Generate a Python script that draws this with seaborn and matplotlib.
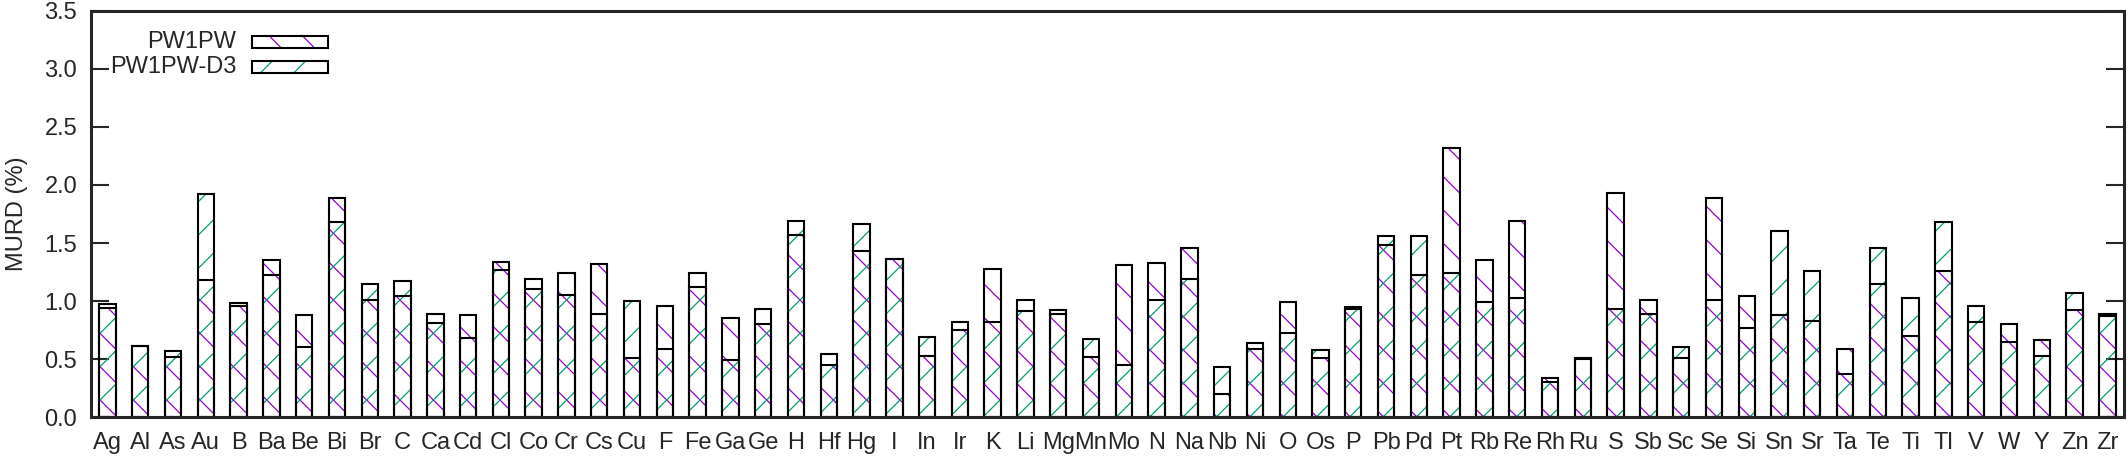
import numpy as np
import pandas as pd
import matplotlib
matplotlib.use('Agg')
import matplotlib.pyplot as plt
import seaborn as sns
from matplotlib.patches import Rectangle

elements = ['Ag', 'Al', 'As', 'Au', 'B', 'Ba', 'Be', 'Bi', 'Br', 'C', 'Ca', 'Cd', 'Cl', 'Co',
            'Cr', 'Cs', 'Cu', 'F', 'Fe', 'Ga', 'Ge', 'H', 'Hf', 'Hg', 'I', 'In', 'Ir', 'K',
            'Li', 'Mg', 'Mn', 'Mo', 'N', 'Na', 'Nb', 'Ni', 'O', 'Os', 'P', 'Pb', 'Pd', 'Pt',
            'Rb', 'Re', 'Rh', 'Ru', 'S', 'Sb', 'Sc', 'Se', 'Si', 'Sn', 'Sr', 'Ta', 'Te', 'Ti',
            'Tl', 'V', 'W', 'Y', 'Zn', 'Zr']

pw1pw = [0.94, 0.61, 0.52, 1.18, 0.96, 1.35, 0.88, 1.89, 1.01, 1.04, 0.81, 0.88, 1.34, 1.19,
         1.24, 1.32, 0.51, 0.96, 1.24, 0.85, 0.80, 1.57, 0.45, 1.43, 1.36, 0.53, 0.75, 1.28,
         1.01, 0.92, 0.52, 1.31, 1.33, 1.46, 0.20, 0.64, 0.99, 0.51, 0.95, 1.48, 1.22, 2.32,
         1.35, 1.69, 0.34, 0.51, 1.93, 1.01, 0.51, 1.89, 1.04, 0.88, 0.83, 0.59, 1.15, 0.70,
         1.26, 0.82, 0.80, 0.66, 0.92, 0.89]

pw1pw_d3 = [0.97, 0.61, 0.57, 1.92, 0.98, 1.22, 0.60, 1.68, 1.15, 1.17, 0.89, 0.68, 1.27, 1.10,
            1.05, 0.89, 1.00, 0.59, 1.12, 0.49, 0.93, 1.69, 0.54, 1.66, 1.36, 0.69, 0.82, 0.82,
            0.91, 0.89, 0.67, 0.45, 1.01, 1.19, 0.43, 0.59, 0.72, 0.58, 0.93, 1.56, 1.56, 1.24,
            0.99, 1.03, 0.30, 0.50, 0.93, 0.89, 0.60, 1.01, 0.77, 1.60, 1.26, 0.37, 1.46, 1.03,
            1.68, 0.96, 0.65, 0.53, 1.07, 0.87]

series_names = ['PW1PW', 'PW1PW-D3']
series_colors = ['#9400d3', '#009e73']
series_hatch = ['\\', '/']

df = pd.DataFrame({'element': elements, 'PW1PW': pw1pw, 'PW1PW-D3': pw1pw_d3})

sns.set_style('ticks')
plt.rcParams['font.family'] = ['Liberation Sans', 'DejaVu Sans']
plt.rcParams['font.size'] = 17
plt.rcParams['hatch.linewidth'] = 0.9

fig, ax = plt.subplots(figsize=(21.28, 4.58), dpi=100)
fig.subplots_adjust(left=0.0428, right=0.998, top=0.976, bottom=0.0895)

# hatch layers first, then black outlines on top
for name, col, h in zip(series_names, series_colors, series_hatch):
    n0 = len(ax.patches)
    sns.barplot(data=df, x='element', y=name, width=0.5, ax=ax, color='white')
    for p in ax.patches[n0:]:
        p.set_facecolor('none')
        p.set_edgecolor(col)
        p.set_hatch(h)
        p.set_linewidth(0)
for name in series_names:
    n0 = len(ax.patches)
    sns.barplot(data=df, x='element', y=name, width=0.5, ax=ax, color='white')
    for p in ax.patches[n0:]:
        p.set_facecolor('none')
        p.set_edgecolor('black')
        p.set_linewidth(1.5)

ax.set_xlim(-0.5, len(elements) - 0.5)
ax.set_ylim(0, 3.5)
ax.set_yticks(np.arange(0, 3.51, 0.5))
ax.set_yticklabels([f'{v:.1f}' for v in np.arange(0, 3.51, 0.5)])
ax.set_xlabel('')
ax.set_ylabel('MURD (%)', labelpad=12)
ax.tick_params(axis='y', direction='in', length=13, width=1.5, right=True, pad=10)
ax.tick_params(axis='x', length=0, pad=11)
for s in ax.spines.values():
    s.set_visible(True)
    s.set_linewidth(2.2)

# gnuplot style key: right aligned label, sample box to the right
key_rows = [0.924, 0.862]
for name, col, h, yk in zip(series_names, series_colors, series_hatch, key_rows):
    ax.text(0.0713, yk, name, transform=ax.transAxes, ha='right', va='center')
    ax.add_patch(Rectangle((0.0792, yk - 0.0148), 0.0374, 0.0296, transform=ax.transAxes,
                           facecolor='none', edgecolor=col, hatch=h, linewidth=0))
    ax.add_patch(Rectangle((0.0792, yk - 0.0148), 0.0374, 0.0296, transform=ax.transAxes,
                           facecolor='none', edgecolor='black', linewidth=1.5))

fig.savefig('out.png', dpi=100)
